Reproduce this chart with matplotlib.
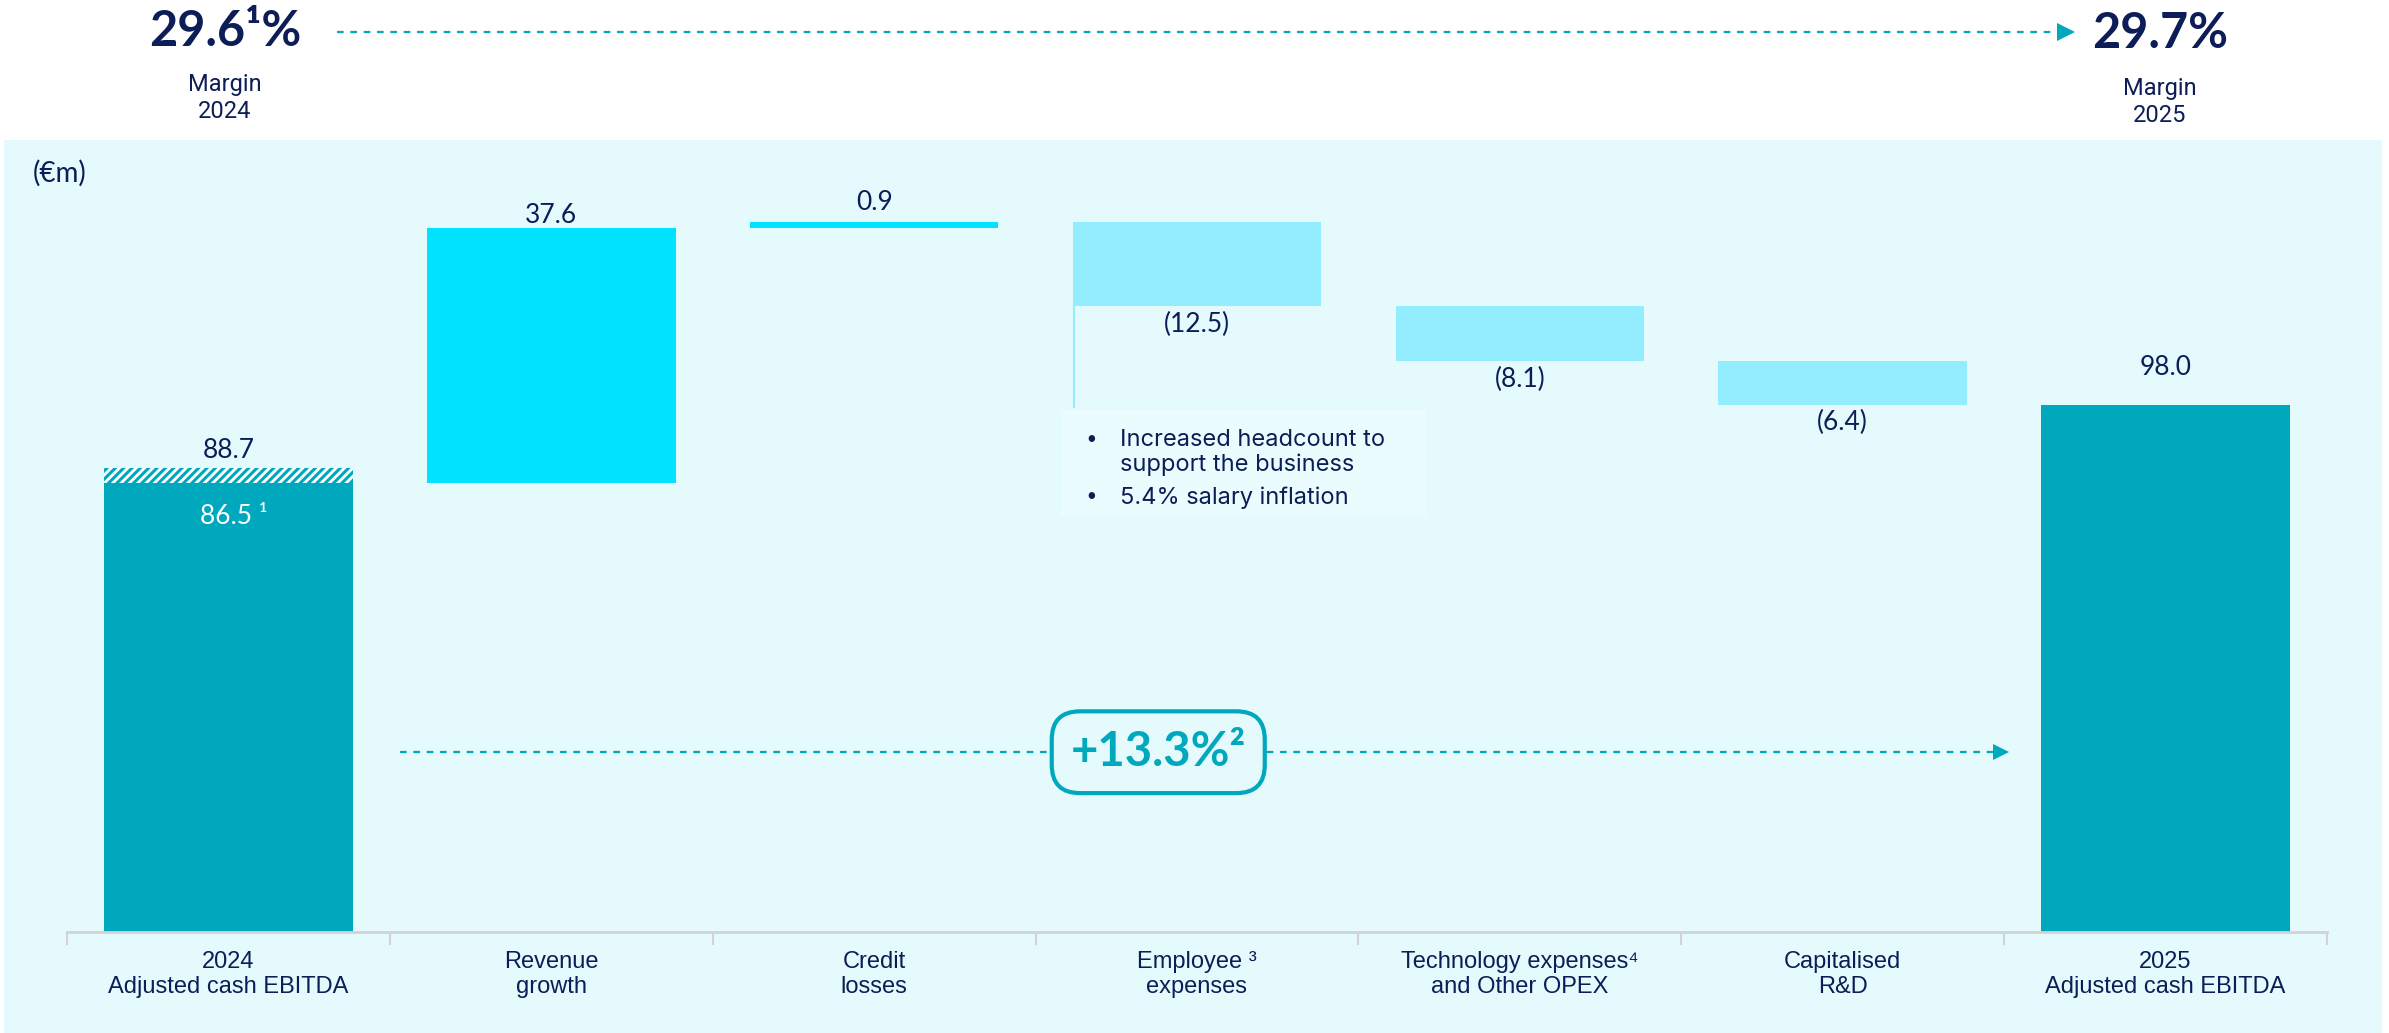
import numpy as np
import matplotlib.pyplot as plt
from matplotlib.patches import Rectangle

# EBITDA bridge, 2024 -> 2025 (EUR m)
categories = ["2024\nAdjusted cash EBITDA", "Revenue\ngrowth", "Credit\nlosses",
              "Employee \u00b3\nexpenses", "Technology expenses\u2074\nand Other OPEX",
              "Capitalised\nR&D", "2025\nAdjusted cash EBITDA"]
start_value = 86.5
start_reported = 88.7
steps = [37.6, 0.9, -12.5, -8.1, -6.4]
end_value = 98.0
step_labels = ["37.6", "0.9", "(12.5)", "(8.1)", "(6.4)"]
margin_2024 = "29.6\u00b9%"
margin_2025 = "29.7%"
growth_label = "+13.3%\u00b2"
bullets = ["Increased headcount to\nsupport the business", "5.4% salary inflation"]

navy = "#0C1D57"
teal = "#00A8BD"
cyan = "#00E2FF"
pale = "#94ECFF"
panel = "#E4FAFD"

plt.rcParams["hatch.linewidth"] = 2.2

W, H = 2389, 1033
fig = plt.figure(figsize=(W / 100, H / 100), dpi=100)

# full-figure layer in pixel units for the panel and header
lay = fig.add_axes([0, 0, 1, 1], zorder=0)
lay.set_xlim(0, W)
lay.set_ylim(H, 0)
lay.axis("off")
lay.add_patch(Rectangle((4, 140), 2378, 900, color=panel, lw=0))

big = dict(fontsize=35, fontweight="bold", color=navy, family="Lato", ha="center", va="center")
small = dict(fontsize=17, color=navy, family="Roboto", ha="center", va="center", linespacing=1.2)
lay.text(225, 31, margin_2024, **big)
lay.text(225, 98, "Margin\n2024", **small)
lay.text(2160, 34, margin_2025, **big)
lay.text(2160, 102, "Margin\n2025", **small)
lay.plot([337, 2062], [32, 32], ls=(0, (3, 3)), color=teal, lw=1.6)
lay.plot([2066], [32], marker=">", ms=13, color=teal, mew=0)
lay.text(33, 173, "(\u20acm)", fontsize=20, color=navy, family="Lato", va="center")

ax = fig.add_axes([67 / W, 101 / H, 2260 / W, 792 / H], zorder=1)
ax.set_facecolor("none")
ax.set_xlim(-0.5, 6.5)
ax.set_ylim(20.4, 137)

x = np.arange(len(categories))
bw = 0.77
running = start_value + np.concatenate([[0], np.cumsum(steps)])
bottoms = np.minimum(running[:-1], running[1:])
heights = np.abs(steps)
colors = [cyan if s > 0 else pale for s in steps]

ax.bar(x[0], start_value, width=bw, color=teal, lw=0)
ax.bar(x[0], start_reported - start_value, bottom=start_value, width=bw,
       facecolor="white", edgecolor=teal, hatch="////", lw=0)
ax.bar(x[1:6], heights, bottom=bottoms, width=bw, color=colors, lw=0)
ax.bar(x[6], end_value, width=bw, color=teal, lw=0)

lab = dict(fontsize=19, color=navy, family="Lato", ha="center", va="center")
ax.annotate(f"{start_reported:.1f}", (x[0], start_reported), xytext=(0, 13),
            textcoords="offset points", **lab)
ax.annotate(f"{start_value:.1f} \u00b9", (x[0], start_value), xytext=(4, -24),
            textcoords="offset points", **{**lab, "color": "white"})
step_offsets = [9, 14, -13, -13, -13]
for i, s in enumerate(steps):
    ax.annotate(step_labels[i], (x[i + 1], running[i + 1]), xytext=(0, step_offsets[i]),
                textcoords="offset points", **lab)
ax.annotate(f"{end_value:.1f}", (x[6], end_value), xytext=(0, 27),
            textcoords="offset points", **lab)

# note on employee costs
ax.plot([x[3] - bw / 2 + 0.005] * 2, [running[3], 97.7], color=pale, lw=1.5)
ax.add_patch(Rectangle((2.58, 81.6), 1.13, 15.7, color="#EAFCFE", lw=0, zorder=0.5))
for yy, b in zip([94.5, 86.0], bullets):
    ax.text(2.655, yy, "\u2022", fontsize=15, color=navy, va="top", family="Inter")
    ax.text(2.76, yy, b, fontsize=17, color=navy, va="top", family="Inter", linespacing=1.15)

# growth arrow with boxed label
gy = 0.227
ax.plot([0.53, 5.47], [gy, gy], transform=ax.get_xaxis_transform(), ls=(0, (3, 3)),
        color=teal, lw=1.6)
ax.plot([5.49], [gy], transform=ax.get_xaxis_transform(), marker=">", ms=11, color=teal, mew=0)
ax.text(2.88, gy, growth_label, transform=ax.get_xaxis_transform(), fontsize=34,
        fontweight="bold", color=teal, family="Lato", ha="center", va="center", zorder=5,
        bbox=dict(boxstyle="round,pad=0.4,rounding_size=0.6", facecolor=panel,
                  edgecolor=teal, lw=3))

for side in ["top", "right", "left"]:
    ax.spines[side].set_visible(False)
ax.spines["bottom"].set_color("#D3D3D3")
ax.spines["bottom"].set_linewidth(2)
ax.set_yticks([])
ax.set_xticks(x)
ax.set_xticklabels(categories, fontsize=17, color=navy, linespacing=1.15,
                   family=["Liberation Sans Narrow", "Liberation Sans", "DejaVu Sans"])
ax.tick_params(axis="x", which="major", length=0, pad=14)
ax.set_xticks(np.arange(-0.5, 7, 1), minor=True)
ax.tick_params(axis="x", which="minor", length=9, width=1.5, color="#D3D3D3")

fig.savefig("out.png", dpi=100)
